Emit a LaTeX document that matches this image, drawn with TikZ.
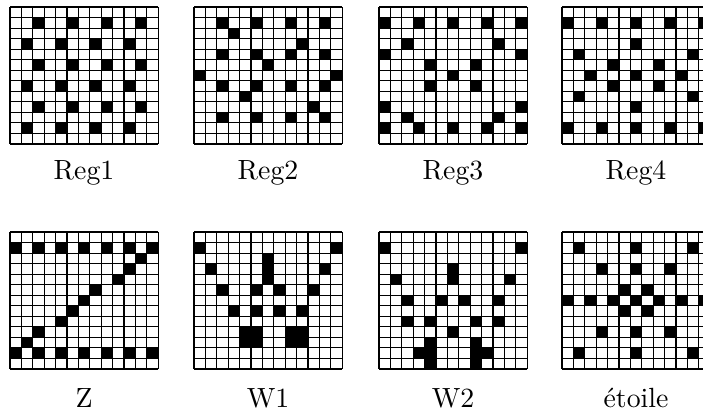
\documentclass[tikz,border=0pt]{standalone}
\usepackage{fontspec}
\usepackage{tikz}

\tikzset{
  gridline/.style={black, line width=0.4pt},
  cellfill/.style={fill=black},
  lbl/.style={inner sep=0pt, anchor=center}
}

% #1,#2: top left corner, #3: black cells as row/col
\newcommand{\grille}[3]{%
  \begin{scope}[shift={(#1,#2)}]
    \foreach \rw/\cl in {#3}
      \fill[cellfill] (\cl*11.4-11.4,\rw*10.54-10.54) rectangle ++(11.4,10.54);
    \foreach \i in {0,...,13} {
      \draw[gridline] (\i*11.4,0) -- (\i*11.4,137.02);
      \draw[gridline] (0,\i*10.54) -- (148.2,\i*10.54);
    }
  \end{scope}}

\begin{document}
\begin{tikzpicture}[x=0.36pt,y=-0.36pt]
\useasboundingbox (0,0) rectangle (703,414);
\clip (0,0) rectangle (703,414);

\grille{10}{7}{2/3,2/6,2/9,2/12,6/3,6/6,6/9,6/12,10/3,10/6,10/9,10/12,4/2,4/5,4/8,4/11,8/2,8/5,8/8,8/11,12/2,12/5,12/8,12/11}
\grille{194}{7}{2/3,2/6,2/9,2/12,5/3,5/6,5/9,5/12,8/3,8/6,8/9,8/12,11/3,11/6,11/9,11/12,3/4,4/10,6/7,7/1,7/13,9/5,10/11}
\grille{379}{7}{2/1,2/4,2/7,2/10,2/13,4/3,4/11,5/1,5/13,6/5,6/9,7/7,8/5,8/9,10/1,10/13,11/3,11/11,12/1,12/4,12/7,12/10,12/13}
\grille{562}{7}{2/1,2/4,2/7,2/10,2/13,4/7,5/2,5/12,6/5,6/9,7/3,7/7,7/11,8/5,8/9,9/2,9/12,10/7,12/1,12/4,12/7,12/10,12/13}

\grille{10}{232}{2/1,2/3,2/5,2/7,2/9,2/11,2/13,3/12,4/11,5/10,6/8,7/7,8/6,9/5,10/3,11/2,12/1,12/3,12/5,12/7,12/9,12/11,12/13}
\grille{194}{232}{2/1,2/13,3/7,4/7,5/7,4/2,4/12,6/3,6/6,6/8,6/11,8/4,8/6,8/8,8/10,10/5,10/6,11/5,11/6,10/9,10/10,11/9,11/10}
\grille{379}{232}{2/1,2/13,4/7,5/7,5/2,5/12,7/3,7/6,7/8,7/11,9/3,9/5,9/9,9/11,10/7,11/5,12/5,13/5,12/4,11/9,12/9,13/9,12/10}
\grille{562}{232}{2/2,2/7,2/12,4/4,4/7,4/10,6/6,6/8,7/1,7/3,7/5,7/7,7/9,7/11,7/13,8/6,8/8,10/4,10/7,10/10,12/2,12/7,12/12}

\node[lbl] (reg1) at (84,173) {Reg1};
\node[lbl] (reg2) at (268,173) {Reg2};
\node[lbl] (reg3) at (453,173) {Reg3};
\node[lbl] (reg4) at (636,173) {Reg4};
\node[lbl] (z) at (84,398) {Z};
\node[lbl] (w1) at (268,398) {W1};
\node[lbl] (w2) at (453,398) {W2};
\node[lbl] (etoile) at (636,398) {étoile};
\end{tikzpicture}
\end{document}
